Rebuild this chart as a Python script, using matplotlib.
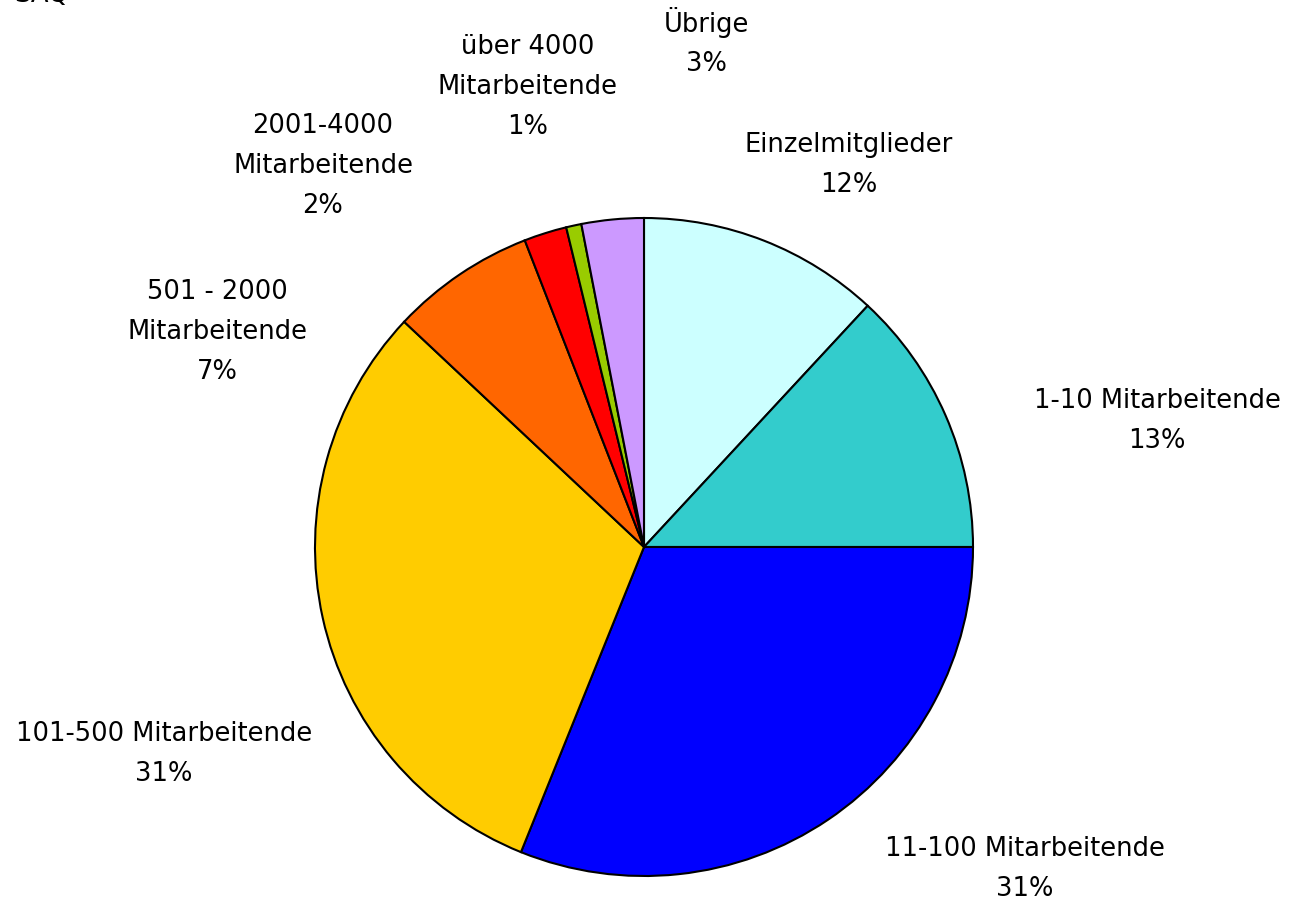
import matplotlib
matplotlib.use('Agg')
import matplotlib.pyplot as plt

# slice data, clockwise from 12 o'clock
names = ['Einzelmitglieder', '1-10 Mitarbeitende', '11-100 Mitarbeitende',
         '101-500 Mitarbeitende', '501 - 2000\nMitarbeitende', '2001-4000\nMitarbeitende',
         'über 4000\nMitarbeitende', 'Übrige']
shares = [11.9, 13.1, 31.1, 30.9, 7.1, 2.1, 0.75, 3.05]
pct_labels = ['12%', '13%', '31%', '31%', '7%', '2%', '1%', '3%']
colors = ['#CCFFFF', '#33CCCC', '#0000FF', '#FFCC00', '#FF6600', '#FF0000', '#99CC00', '#CC99FF']

# label centres in pixel coords (x, y from top)
label_pos = [(849, 165), (1157, 421), (1025, 869), (164, 754),
             (217, 332), (323, 166), (528, 87), (706, 42)]

W, H = 1289, 901
fig = plt.figure(figsize=(W / 100, H / 100), dpi=100)
ax = fig.add_axes([0, 0, 1, 1])

ax.pie(shares, colors=colors, startangle=90, counterclock=False,
       center=(644, H - 547), radius=329, frame=True,
       wedgeprops=dict(edgecolor='black', linewidth=1.5))
ax.set_xlim(0, W)
ax.set_ylim(0, H)
ax.axis('off')

for n, p, (x, y) in zip(names, pct_labels, label_pos):
    ax.text(x, H - y, n + '\n' + p, ha='center', va='center',
            fontsize=18.5, family='DejaVu Sans', linespacing=1.68)

# title, cut off at the top edge like in the source image
ax.text(14, H - 2, 'SAQ', ha='left', va='baseline', fontsize=18.5, family='DejaVu Sans')

fig.savefig('out.png', dpi=100)
